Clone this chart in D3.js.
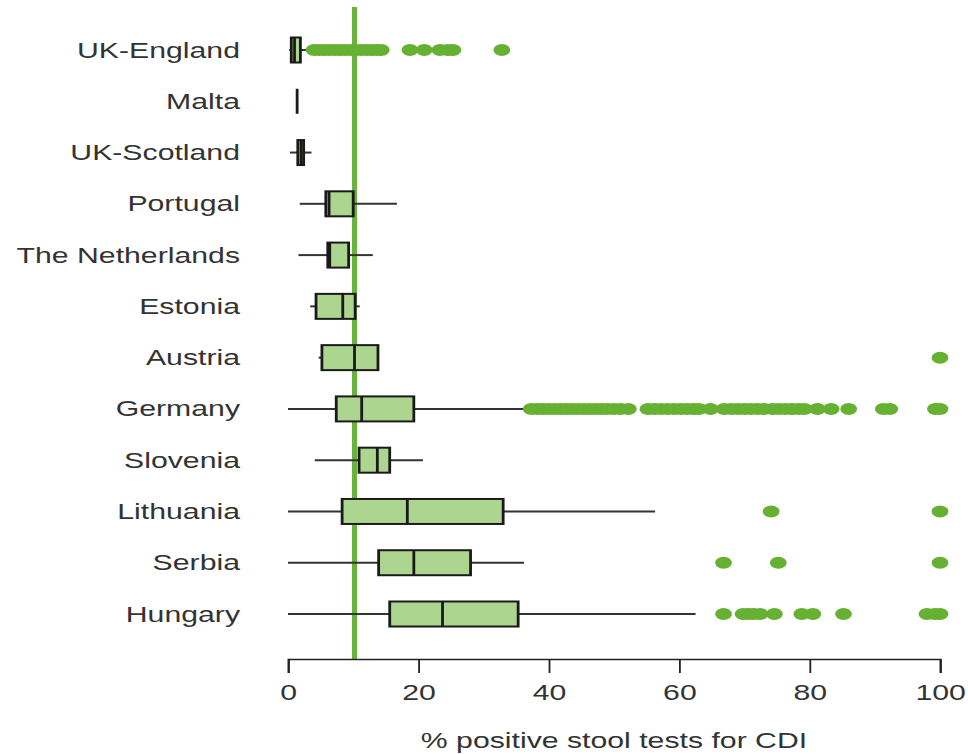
<!DOCTYPE html>
<html>
<head>
<meta charset="utf-8">
<script src="https://cdn.jsdelivr.net/npm/d3@7"></script>
<style>
  body { margin: 0; background: #fff; }
  svg { display: block; }
  text { font-family: "Liberation Sans", Arial, sans-serif; }
</style>
</head>
<body>
<div id="chart"></div>
<script>
// values (% positive stool tests)
const countries = ["UK-England", "Malta", "UK-Scotland", "Portugal", "The Netherlands", "Estonia",
  "Austria", "Germany", "Slovenia", "Lithuania", "Serbia", "Hungary"];
const whiskerLow  = [0.2, 1.4, 0.3, 1.8, 1.6, 3.4, 4.7, 0, 4.1, 0, 0, 0];
const q1          = [0.5, 1.4, 1.5, 5.8, 6.1, 4.3, 5.2, 7.4, 10.9, 8.3, 13.9, 15.6];
const medians     = [1.0, 1.4, 2.0, 6.3, 6.4, 8.4, 10.2, 11.3, 13.7, 18.3, 19.3, 23.7];
const q3          = [1.9, 1.4, 2.4, 10.0, 9.3, 10.3, 13.8, 19.3, 15.6, 33.0, 28.0, 35.3];
const whiskerHigh = [3.7, 1.4, 3.6, 16.7, 13.0, 11.0, 13.8, 36.8, 20.7, 56.3, 36.2, 62.5];
const outliers = [
  [4, 4.8, 5.6, 6.4, 7.2, 8, 8.8, 9.6, 10.4, 11.2, 12, 12.8, 13.6, 14.3, 18.7, 20.9, 23.3, 24.5, 25.3, 32.8],
  [], [], [], [], [],
  [100],
  [37.3, 38.2, 39.1, 40, 40.9, 41.8, 42.7, 43.6, 44.5, 45.4, 46.3, 47.2, 48.1, 49, 50, 51, 52.2,
   55.2, 56.2, 57.2, 58.2, 59.2, 60.2, 61.2, 62.2, 63, 64.8,
   66.9, 68, 69, 70, 71, 72, 73, 74.3, 75.3, 76.3, 77.3, 78.3, 79.2,
   81.2, 83.3, 86, 91.3, 92.3, 99.3, 100],
  [],
  [74.1, 100],
  [66.8, 75.2, 100],
  [66.8, 69.8, 70.6, 71.4, 72.4, 74.6, 78.8, 80.5, 85.2, 98, 99.2, 100]
];
const referenceLine = 10.2;
const xTicks = [0, 20, 40, 60, 80, 100];

const W = 968, H = 754;
const sx = 1.4; // the source picture is stretched horizontally
const fontSize = 21.6;

const svg = d3.select("#chart").append("svg")
  .attr("width", W).attr("height", H);
const g = svg.append("g").attr("transform", `scale(${sx},1)`);

const x = d3.scaleLinear().domain([0, 100]).range([288 / sx, 940 / sx]);
const y = d3.scalePoint().domain(countries).range([50, 614]);
const boxH = 25;

const rows = countries.map((c, i) => ({
  name: c, lo: whiskerLow[i], q1: q1[i], med: medians[i], q3: q3[i], hi: whiskerHigh[i], out: outliers[i]
}));

// country labels
g.selectAll("text.lab")
  .data(countries)
  .enter().append("text")
  .attr("class", "lab")
  .attr("x", 240 / sx)
  .attr("y", d => y(d))
  .attr("dy", "0.35em")
  .attr("text-anchor", "end")
  .attr("font-size", fontSize)
  .attr("fill", "#333")
  .text(d => d);

// reference line
g.append("line")
  .attr("x1", x(referenceLine)).attr("x2", x(referenceLine))
  .attr("y1", 7).attr("y2", 659)
  .attr("stroke", "#6ab23e")
  .attr("stroke-width", 3.6);

const row = g.selectAll("g.row").data(rows).enter().append("g").attr("class", "row");

// whiskers
row.append("line")
  .attr("x1", d => x(d.lo)).attr("x2", d => x(d.q1))
  .attr("y1", d => y(d.name)).attr("y2", d => y(d.name))
  .attr("stroke", "#333").attr("stroke-width", 2);
row.append("line")
  .attr("x1", d => x(d.q3)).attr("x2", d => x(d.hi))
  .attr("y1", d => y(d.name)).attr("y2", d => y(d.name))
  .attr("stroke", "#333").attr("stroke-width", 2);

// boxes
row.append("rect")
  .attr("x", d => x(d.q1))
  .attr("y", d => y(d.name) - boxH / 2)
  .attr("width", d => x(d.q3) - x(d.q1))
  .attr("height", boxH)
  .attr("fill", "#acd590")
  .attr("stroke", "#1a1a1a")
  .attr("stroke-width", 2);

row.append("line")
  .attr("x1", d => x(d.med)).attr("x2", d => x(d.med))
  .attr("y1", d => y(d.name) - boxH / 2).attr("y2", d => y(d.name) + boxH / 2)
  .attr("stroke", "#1a1a1a").attr("stroke-width", 2);

// outliers
row.selectAll("circle")
  .data(d => d.out.map(v => ({ v, name: d.name })))
  .enter().append("circle")
  .attr("cx", d => x(d.v))
  .attr("cy", d => y(d.name))
  .attr("r", 6)
  .attr("fill", "#66b132");

// x axis
const axis = g.append("g")
  .attr("transform", "translate(0,659)")
  .call(d3.axisBottom(x).tickValues(xTicks).tickSize(14).tickPadding(12));
axis.select(".domain").attr("stroke", "#222").attr("stroke-width", 1.5);
axis.selectAll(".tick line").attr("stroke", "#222").attr("stroke-width", 1.3);
axis.selectAll("text")
  .attr("font-size", fontSize)
  .attr("font-family", "Liberation Sans, Arial, sans-serif")
  .attr("fill", "#333");

g.append("text")
  .attr("x", (x(0) + x(100)) / 2)
  .attr("y", 748)
  .attr("text-anchor", "middle")
  .attr("font-size", fontSize)
  .attr("fill", "#333")
  .text("% positive stool tests for CDI");
</script>
</body>
</html>
